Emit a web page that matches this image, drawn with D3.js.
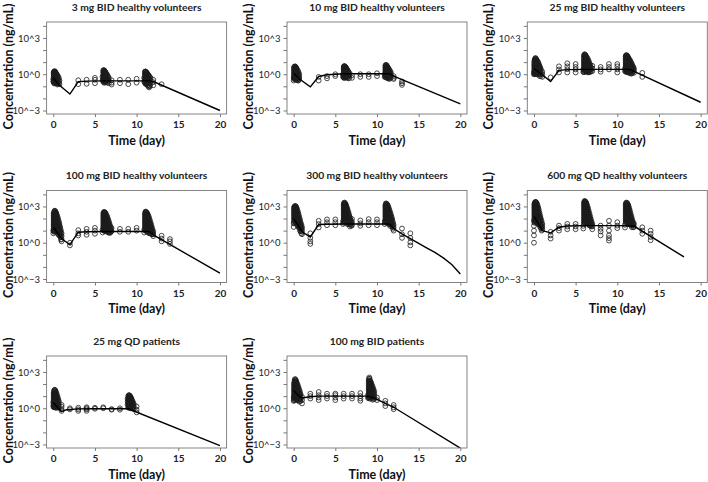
<!DOCTYPE html>
<html>
<head>
<meta charset="utf-8">
<script src="https://cdn.jsdelivr.net/npm/d3@7"></script>
<style>
  body { margin: 0; background: #fff; }
  svg { display: block; }
</style>
</head>
<body>
<svg id="chart" width="708" height="482"></svg>
<script>
// Panel titles, in reading order
const titles = [
  '3 mg BID healthy volunteers',
  '10 mg BID healthy volunteers',
  '25 mg BID healthy volunteers',
  '100 mg BID healthy volunteers',
  '300 mg BID healthy volunteers',
  '600 mg QD healthy volunteers',
  '25 mg QD patients',
  '100 mg BID patients'
];

const xTicks = [0, 5, 10, 15, 20];
const yTicks = [1e-3, 1e-2, 1e-1, 1, 10, 100, 1e3, 1e4];
const yLabels = new Map([[1e-3, '10^\u22123'], [1, '10^0'], [1e3, '10^3']]);

// Model prediction lines: [day, ng/mL]
const pred3 = [[0,0.5],[0.6,0.15],[2,0.023],[3,0.24],[4,0.27],[6,0.28],[8,0.28],[10,0.28],[11.5,0.28],[12,0.25],[20,0.001]];
const pred10 = [[0,1.2],[0.7,0.4],[2,0.09],[3,0.65],[4,0.9],[5,1.0],[6,1.1],[8,1.1],[10,1.1],[11.5,1.1],[12,0.7],[20,0.0035]];
const pred25 = [[0,3],[1,0.9],[2,0.25],[3,2.1],[4,2.4],[6,2.5],[8,2.5],[10,2.5],[11.5,2.5],[12,1.7],[20,0.0048]];
const pred100 = [[0,20],[1,2.1],[2,0.7],[3,7.4],[4,8],[6,8.5],[8,8.5],[10,8.5],[11.5,8.5],[12,4.5],[20,0.003]];
const pred300 = [[0,100],[0.5,30],[1,8],[2,3],[3,32],[4,34],[6,35],[8,35],[10,35],[11.5,35],[12,15],[13,5.5],[14,2.2],[15,0.9],[16,0.36],[17,0.15],[18,0.053],[19,0.015],[20,0.0026]];
const pred600 = [[0,150],[0.5,40],[1,10],[2,6.6],[3,19],[4,24],[6,26],[8,26],[10,26],[12,24],[18,0.067]];
const pred25p = [[0,3],[0.5,1.2],[1,0.55],[1.6,0.75],[3,0.88],[5,0.9],[7,0.9],[9,0.9],[20,0.0008]];
const pred100p = [[0,30],[0.5,12],[1,7],[2,9],[3,10],[5,10],[7,10],[9,10],[10,5.3],[11,2.5],[12,1.2],[20,0.0005]];

// Observations: [day, [ng/mL, ...]]
const obs3 = [
  [0,[0.25,0.4]],[0.08,[1.6,1.2,0.8,0.5,0.3,0.2]],[0.17,[1.8,1.3,0.9,0.6,0.4,0.25]],
  [0.25,[1.5,1.0,0.7,0.45,0.3,0.18]],[0.33,[1.2,0.8,0.55,0.35,0.22]],[0.5,[0.8,0.55,0.35,0.22,0.14]],
  [0.67,[0.5,0.3,0.18]],[0.75,[0.3,0.15]],
  [0.04,[1.4,1.0,0.65,0.4,0.25]],[0.12,[1.7,1.1,0.7,0.45,0.28,0.17]],[0.21,[1.6,1.1,0.75,0.5,0.32,0.2]],
  [0.29,[1.3,0.9,0.6,0.38,0.24]],[0.42,[1.0,0.65,0.42,0.27,0.17]],[0.58,[0.65,0.4,0.25,0.16]],
  [3,[0.32,0.15]],[4,[0.35,0.16]],[5,[0.5,0.35,0.18]],
  [5.9,[0.6,0.3]],[6,[2.0,1.5,1.0,0.7,0.45,0.3]],[6.08,[2.2,1.6,1.1,0.75,0.5,0.3,0.2]],
  [6.17,[1.8,1.3,0.9,0.6,0.4,0.25]],[6.25,[1.5,1.0,0.7,0.45,0.3]],[6.33,[1.2,0.8,0.5,0.3]],
  [6.5,[0.8,0.5,0.3,0.2]],[6.67,[0.5,0.3,0.18]],
  [6.04,[2.1,1.4,0.9,0.6,0.38,0.24]],[6.12,[2.0,1.4,0.95,0.65,0.42,0.27]],[6.21,[1.6,1.1,0.75,0.5,0.32,0.2]],
  [6.29,[1.3,0.9,0.6,0.38,0.24]],[6.42,[1.0,0.65,0.42,0.26]],[6.58,[0.65,0.4,0.25]],
  [7,[0.32,0.2,0.14]],[8,[0.35,0.18]],[9,[0.35,0.15]],[10,[0.42,0.2]],
  [10.9,[0.5,0.25]],[11,[1.6,1.2,0.8,0.55,0.35,0.22]],
  [11.08,[1.7,1.2,0.8,0.5,0.3,0.18]],[11.17,[1.4,1.0,0.65,0.4,0.25,0.15]],[11.25,[1.2,0.8,0.5,0.3,0.18]],
  [11.33,[1.0,0.6,0.4,0.25,0.12]],[11.5,[0.7,0.45,0.28,0.12,0.08]],[11.67,[0.5,0.3,0.15]],
  [11.04,[1.65,1.1,0.7,0.45,0.28,0.17]],[11.12,[1.55,1.1,0.72,0.45,0.28,0.16]],[11.21,[1.3,0.9,0.58,0.35,0.2]],
  [11.29,[1.1,0.7,0.45,0.27,0.15]],[11.42,[0.85,0.55,0.34,0.2,0.1]],[11.58,[0.6,0.37,0.2,0.1]],
  [12,[0.35,0.22,0.12]],[13,[0.15]]
];
const obs10 = [
  [0,[0.5,0.3]],[0.08,[4.0,2.8,2.0,1.4,1.0,0.7,0.5]],[0.17,[4.5,3.2,2.2,1.5,1.0,0.7,0.45]],
  [0.25,[3.8,2.6,1.8,1.2,0.8,0.5,0.35]],[0.33,[3.0,2.0,1.4,0.9,0.6,0.4]],[0.5,[2.0,1.3,0.9,0.6,0.4,0.3]],
  [0.67,[1.0,0.6,0.4]],
  [0.04,[3.6,2.4,1.7,1.2,0.85,0.6,0.4]],[0.12,[4.3,3.0,2.1,1.45,1.0,0.7,0.48]],[0.21,[4.1,2.9,2.0,1.35,0.9,0.6,0.4]],
  [0.29,[3.4,2.3,1.6,1.05,0.7,0.45]],[0.42,[2.5,1.65,1.1,0.75,0.5,0.35]],[0.58,[1.5,1.0,0.65,0.45,0.3]],
  [3,[0.6,0.3]],[4,[0.7,0.45]],[5,[1.0,0.7]],
  [5.92,[0.9,0.6]],[6,[4.0,2.8,1.9,1.3,0.9,0.6]],[6.08,[4.8,3.4,2.4,1.6,1.1,0.75,0.5]],
  [6.17,[4.2,3.0,2.0,1.4,0.9,0.6]],[6.25,[3.5,2.4,1.6,1.1,0.75]],[6.33,[3.0,2.0,1.3,0.9,0.6]],
  [6.5,[2.0,1.4,0.9,0.6]],[6.67,[1.3,0.8,0.5]],
  [6.04,[4.4,3.1,2.1,1.45,1.0,0.68,0.5]],[6.12,[4.5,3.2,2.2,1.5,1.0,0.68]],[6.21,[3.8,2.7,1.8,1.25,0.82,0.55]],
  [6.29,[3.2,2.2,1.45,1.0,0.68]],[6.42,[2.5,1.7,1.1,0.75,0.5]],[6.58,[1.6,1.1,0.7,0.45]],
  [7,[0.8,0.5]],[8,[1.0,0.6]],[9,[1.0,0.6]],[10,[1.2,0.7]],
  [10.92,[1.0,0.6]],[11,[5.0,3.5,2.4,1.6,1.1,0.7]],[11.08,[6.0,4.2,2.8,1.9,1.3,0.9,0.6]],
  [11.17,[5.0,3.5,2.4,1.6,1.0,0.7]],[11.25,[4.0,2.8,1.9,1.3,0.8,0.5]],[11.33,[3.2,2.2,1.5,1.0,0.6]],
  [11.5,[2.2,1.5,1.0,0.65,0.4]],[11.67,[1.4,0.9,0.55]],
  [11.04,[5.5,3.8,2.6,1.75,1.2,0.8,0.55]],[11.12,[5.5,3.8,2.6,1.75,1.15,0.8]],[11.21,[4.5,3.1,2.1,1.4,0.9,0.6]],
  [11.29,[3.6,2.5,1.7,1.15,0.7,0.45]],[11.42,[2.7,1.8,1.2,0.8,0.5]],[11.58,[1.8,1.2,0.75,0.48]],
  [12,[0.7,0.5,0.4]],[13,[0.25,0.18,0.13]]
];
const obs25 = [
  [0,[1.5,1.0]],[0.08,[15,10,7,5,3.5,2.5,1.7,1.2]],[0.17,[22,15,10,7,5,3.5,2.4,1.6,1.1]],
  [0.25,[18,12,8,5.5,3.8,2.6,1.8,1.2]],[0.33,[14,10,7,4.8,3.3,2.2,1.5,1.0]],[0.5,[10,7,4.8,3.3,2.2,1.5,1.0]],
  [0.67,[5,3.4,2.3,1.5,1.0,0.7]],[0.83,[2.6,1.7,1.1,0.7]],[1,[1.6,1.0,0.6]],
  [0.04,[12,8,5.8,4.2,3,2.1,1.4,1.0]],[0.12,[18,12,8.5,6,4.2,3,2,1.4]],[0.21,[20,13.5,9,6.2,4.3,3,2.1,1.4]],
  [0.29,[16,11,7.5,5.1,3.5,2.4,1.6,1.1]],[0.42,[12,8.4,5.8,4,2.7,1.8,1.2]],[0.58,[7,5,3.4,2.3,1.5,1.0]],
  [0.75,[3.6,2.4,1.6,1.0]],
  [2,[0.55]],[3,[4.5,2.5,1.4]],[4,[8,4.5,2.6,1.4]],[5,[7,4,2.5,1.4]],
  [5.92,[2.5,1.5]],[6,[35,24,16,11,7.5,5,3.4,2.3,1.5]],[6.08,[45,30,20,13,9,6,4,2.7,1.8]],
  [6.17,[38,25,17,11,7.5,5,3.3,2.2]],[6.25,[30,20,13,9,6,4,2.6,1.7]],[6.33,[24,16,11,7,4.8,3.2,2.1]],
  [6.5,[16,10,7,4.5,3,2,1.4]],[6.67,[8,5,3.3,2.2,1.5]],[6.83,[4,2.6,1.7]],
  [6.04,[40,27,18,12,8,5.5,3.7,2.5,1.6]],[6.12,[42,28,19,12,8.2,5.5,3.6,2.4]],[6.21,[34,22,15,10,6.7,4.5,3,2]],
  [6.29,[27,18,12,8,5.4,3.6,2.4,1.6]],[6.42,[20,13,8.8,5.8,3.9,2.6,1.7]],[6.58,[12,7.5,5,3.3,2.2,1.5]],
  [6.75,[6,3.8,2.5,1.6]],
  [7,[5,3,1.8]],[8,[4,2.5,1.6]],[9,[7,4,2.5]],[10,[7,4.5,2.5,1.4]],
  [10.92,[3,1.8]],[11,[30,20,14,9,6,4,2.6,1.7]],[11.08,[38,26,17,11,7.5,5,3.3,2.2,1.5]],
  [11.17,[34,22,15,10,6.5,4.3,2.8,1.8]],[11.25,[28,19,12,8,5.5,3.6,2.4,1.6]],[11.33,[22,15,10,6.5,4.3,2.8,1.8]],
  [11.5,[15,10,6.5,4.3,2.8,1.8,1.2]],[11.67,[9,6,4,2.6,1.7,1.1]],[11.83,[5,3.3,2.2,1.4]],
  [11.04,[34,23,15.5,10,6.8,4.5,3,2]],[11.12,[36,24,16,10.5,7,4.7,3,2]],[11.21,[31,20,13.5,9,6,4,2.6,1.7]],
  [11.29,[25,17,11,7.2,4.9,3.2,2.1,1.4]],[11.42,[18,12,8,5.3,3.5,2.3,1.5]],[11.58,[12,8,5.2,3.4,2.2,1.4]],
  [11.75,[7,4.6,3,1.9,1.2]],[11.92,[4,2.6,1.7]],
  [12,[3,2,1.3]],[13,[1.3,0.6]]
];
const obs100 = [
  [0,[10,6]],[0.08,[300,200,130,90,60,40,28,18,12,8]],[0.17,[450,300,200,130,85,55,36,24,16,10]],
  [0.25,[380,250,160,110,70,45,30,20,13]],[0.33,[300,200,130,85,55,36,24,15,10]],[0.5,[150,100,65,42,28,18,12,8]],
  [0.67,[60,40,26,17,11,7,4.5]],[0.83,[20,13,8,5,3.2]],[1,[6,3.5,2,1.3]],
  [0.04,[260,170,110,75,50,34,23,15,10]],[0.12,[380,250,165,110,72,47,32,21,14,9]],[0.21,[420,280,180,120,78,50,33,22,14]],
  [0.29,[340,225,145,95,62,40,27,17,11]],[0.42,[220,145,95,62,40,26,17,11,7]],[0.58,[100,65,42,28,18,12,8,5]],
  [0.75,[35,23,15,9,6,4]],[0.92,[11,7,4.5,2.8,1.8]],
  [2,[1.0,0.6]],[3,[11,6,4]],[4,[14,8,4.5]],[5,[17,10,5.5]],
  [5.92,[12,7]],[6,[250,160,100,65,42,28,18,12]],[6.08,[350,230,150,95,60,40,26,17,11]],
  [6.17,[330,210,140,90,58,38,25,16,10]],[6.25,[280,180,115,75,48,31,20,13]],[6.33,[220,140,90,58,38,25,16,10]],
  [6.5,[130,85,55,36,23,15,10]],[6.67,[60,38,25,16,10,7]],[6.83,[25,16,10,6.5]],
  [6.04,[300,190,125,80,52,34,22,15,10]],[6.12,[340,220,145,92,60,39,25,16,11]],[6.21,[300,195,125,82,53,34,22,14,9]],
  [6.29,[250,160,100,66,43,28,18,12]],[6.42,[170,110,72,46,30,20,13,8.5]],[6.58,[90,58,38,25,16,10,7]],
  [6.75,[38,25,16,10,7]],[6.92,[18,12,8]],
  [7,[16,9]],[8,[14,8]],[9,[14,8]],[10,[17,10]],
  [10.92,[12,7]],[11,[250,160,100,65,42,28,18,12]],[11.08,[380,250,160,100,65,42,28,18,12]],
  [11.17,[330,210,140,90,58,38,25,16,10]],[11.25,[280,180,115,75,48,31,20,13,8]],[11.33,[220,140,90,58,38,25,16,10]],
  [11.5,[120,80,50,32,21,14,9,6]],[11.67,[50,32,21,14,9,6]],[11.83,[20,13,8,5]],
  [11.04,[320,210,135,85,55,36,23,15,10]],[11.12,[350,230,150,95,62,40,26,17,11]],[11.21,[300,195,125,82,53,34,22,14,9]],
  [11.29,[250,160,100,66,43,28,18,12]],[11.42,[170,110,70,45,29,19,12,8]],[11.58,[80,52,34,22,14,9,6]],
  [11.75,[32,21,14,9,6]],[11.92,[12,8,5]],
  [12,[8,5,3.5]],[13,[3.8,2.2,1.3]],[14,[2.0,1.3,0.8]]
];
const obs300 = [
  [0,[40,20]],[0.08,[900,600,400,260,170,110,70]],[0.17,[1100,750,500,330,220,140,90]],
  [0.25,[1000,650,430,280,180,120,80,50]],[0.33,[800,520,340,220,140,90,60]],[0.5,[400,260,170,110,70,45,30]],
  [0.67,[150,100,65,42,28,18]],[0.83,[50,33,22,14,9]],[1,[20,13,8,5]],
  [0.04,[800,530,350,230,150,100,65,42]],[0.12,[1000,680,450,300,200,125,80,52]],[0.21,[1050,700,470,310,200,130,85,55]],
  [0.29,[900,590,390,250,160,105,70,45]],[0.42,[600,390,255,165,105,68,44,28]],[0.58,[250,165,108,70,45,29,19]],
  [0.75,[90,60,39,25,16,10]],[0.92,[32,21,14,9,6]],
  [2,[6,2.5,1.3,0.8]],[3,[65,35,18]],[4,[85,50,28]],[5,[85,50,28]],
  [5.92,[60,35]],[6,[1500,1000,650,420,270,170,110,70,45]],[6.08,[2100,1400,900,580,370,240,150,95,60]],
  [6.17,[1800,1200,780,500,320,200,130,80]],[6.25,[1400,900,580,370,240,150,95,60]],[6.33,[1000,650,420,270,170,110,70]],
  [6.5,[500,320,200,130,85,55]],[6.67,[200,130,85,55,35]],[6.83,[80,50,32]],
  [6.04,[1800,1200,780,500,320,205,130,85,55]],[6.12,[2000,1300,850,550,350,220,140,90,58]],[6.21,[1600,1050,680,440,280,175,112,72]],
  [6.29,[1200,780,500,320,205,130,85,55]],[6.42,[750,490,315,200,130,85,55,35]],[6.58,[320,205,130,85,55,35]],
  [6.75,[125,80,52,34,22]],[6.92,[60,38,25]],
  [7,[90,50,28]],[8,[70,40,25]],[9,[90,50,28]],[10,[85,50,28]],
  [10.92,[60,35]],[11,[1200,800,520,340,220,140,90,60]],[11.08,[1800,1200,780,500,320,200,130,85,55]],
  [11.17,[1600,1050,680,440,280,180,115,75]],[11.25,[1300,850,550,350,220,140,90,58]],[11.33,[1000,650,420,270,170,110,70,45]],
  [11.5,[500,320,200,130,85,55,35]],[11.67,[220,140,90,58,38]],[11.83,[90,58,38,25]],
  [11.04,[1500,1000,650,420,270,170,110,70,45]],[11.12,[1700,1130,730,470,300,190,122,80,52]],[11.21,[1450,950,610,390,250,160,102,66]],
  [11.29,[1150,750,480,310,195,125,80,52]],[11.42,[750,480,310,200,128,82,52,34]],[11.58,[340,220,140,90,58,37,24]],
  [11.75,[140,90,58,38,25]],[11.92,[50,32,21,14]],
  [12,[30,18,10]],[13,[15,5,2.5]],[14,[6,2.5,1.1,0.6]]
];
const obs600 = [
  [0,[70,25,10,4,1]],[0.08,[1800,1200,800,500,320,200,130,80,50]],[0.17,[2400,1600,1000,650,420,270,170,110,70]],
  [0.25,[2200,1400,900,580,370,240,150,95,60]],[0.33,[1800,1150,750,480,300,190,120,75,48]],[0.5,[900,580,370,240,150,95,60,38]],
  [0.67,[300,190,120,75,48,30]],[0.83,[100,65,42,27,17]],[1,[35,20,12]],
  [0.04,[1500,1000,650,420,270,170,110,70,45]],[0.12,[2100,1400,900,580,370,240,150,95,60]],[0.21,[2300,1500,950,620,400,255,160,100,65]],
  [0.29,[2000,1300,830,530,340,215,135,85,54]],[0.42,[1300,830,540,350,220,140,90,57,36]],[0.58,[550,350,225,145,92,58,37]],
  [0.75,[170,110,70,45,29,19]],[0.92,[60,38,25,16,10]],
  [2,[8,4,2.2]],[3,[26,16,10]],[4,[36,22,13]],[5,[36,22,13]],
  [5.92,[25,15]],[6,[2000,1300,850,550,350,220,140,90,58,37]],[6.08,[2800,1800,1150,750,480,300,190,120,75,48]],
  [6.17,[2500,1600,1000,650,420,270,170,110,70,45]],[6.25,[2000,1300,850,550,350,220,140,90,58]],[6.33,[1500,950,620,400,250,160,100,65,42]],
  [6.5,[700,450,290,180,115,75,48]],[6.67,[250,160,100,65,42,27]],[6.83,[90,58,37,24]],
  [6.04,[2400,1550,1000,650,420,265,170,110,70,45]],[6.12,[2700,1750,1100,720,460,290,185,118,75]],[6.21,[2300,1480,950,610,390,250,160,102,65]],
  [6.29,[1800,1150,740,480,300,195,125,80,50]],[6.42,[1050,680,440,280,180,115,74,47]],[6.58,[420,270,175,112,72,46,30]],
  [6.75,[150,96,62,40,26]],[6.92,[55,35,23]],
  [7,[36,22,13]],[8,[26,14,8.5,4]],[9,[65,26,10,4,2.4,1.5]],[10,[50,26,16]],
  [10.92,[30,18]],[11,[1500,950,620,400,250,160,100,65,42]],[11.08,[2100,1350,870,560,360,230,145,92,58]],
  [11.17,[1900,1200,780,500,320,200,130,82,52]],[11.25,[1500,950,620,400,250,160,100,65]],[11.33,[1100,700,450,290,185,120,75,48]],
  [11.5,[500,320,200,130,82,52,33]],[11.67,[180,115,75,48,30]],[11.83,[65,42,27]],
  [11.04,[1800,1150,740,480,300,195,125,80,50]],[11.12,[2000,1300,830,530,340,215,138,88,56]],[11.21,[1700,1100,700,450,290,185,118,75,48]],
  [11.29,[1300,830,540,350,220,140,90,57]],[11.42,[800,510,330,210,135,86,55,35]],[11.58,[300,195,125,80,51,33]],
  [11.75,[110,70,45,29,19]],[11.92,[45,29,19]],
  [12,[36,20]],[13,[19,10,5.5]],[14,[10,5.5,3,1.6]]
];
const obs25p = [
  [0,[3,1.5]],[0.08,[25,15,9,6,4,2.7,1.8,1.2]],[0.17,[34,20,12,8,5,3.3,2.2,1.4]],
  [0.25,[28,17,10,6.5,4.3,2.8,1.8,1.2]],[0.33,[20,12,7.5,5,3.3,2.2,1.4]],[0.5,[10,6.5,4.2,2.8,1.8,1.2]],
  [0.67,[4,2.6,1.7,1.1]],
  [0.04,[18,11,7,4.5,3,2,1.3]],[0.12,[30,18,11,7,4.5,3,2,1.3]],[0.21,[31,18.5,11,7.2,4.7,3,2,1.3]],
  [0.29,[24,14,8.7,5.7,3.8,2.5,1.6,1.1]],[0.42,[15,9,5.6,3.8,2.5,1.6,1.1]],[0.58,[6.5,4.2,2.7,1.8,1.2]],
  [1,[1.9,1.3,0.8,0.6]],[2,[1.0,0.8]],[3,[1.1,0.8,0.6]],[4,[1.2,1.0,0.8,0.6]],
  [5,[1.1,0.9]],[6,[1.2,1.0]],[7,[0.85,0.75]],[8,[1.0,0.75]],
  [8.92,[6,3.5,2]],[9,[10,6.5,4.2,2.7,1.7,1.1]],[9.08,[12,8,5,3.2,2,1.3]],[9.17,[11,7,4.5,2.9,1.8,1.2]],
  [9.25,[9,6,3.8,2.4,1.5,1.0]],[9.33,[7,4.5,2.9,1.8,1.2]],[9.5,[4,2.6,1.7,1.1]],[9.67,[2.2,1.4,0.9]],
  [9.04,[11,7.2,4.6,3,1.9,1.2]],[9.12,[11.5,7.5,4.8,3.1,1.9,1.25]],[9.21,[10,6.5,4.1,2.6,1.65,1.1]],
  [9.29,[8,5.2,3.3,2.1,1.35]],[9.42,[5.5,3.5,2.3,1.5,1.0]],[9.58,[3,2,1.3,0.9]],
  [10,[1.4,0.75,0.45]]
];
const obs100p = [
  [0,[8,4]],[0.08,[150,90,55,35,22,14,9,6]],[0.17,[260,160,100,60,38,24,15,10,6]],
  [0.25,[200,125,80,50,32,20,13,8]],[0.33,[150,95,60,38,24,15,10,6]],[0.5,[80,50,32,20,13,8,5]],
  [0.67,[35,22,14,9,6,3.5]],[0.83,[15,10,6,4]],[1,[8.7,4.7,2.5]],
  [0.04,[110,68,42,27,17,11,7,4.5]],[0.12,[210,125,78,48,30,19,12,8,5]],[0.21,[230,140,90,55,35,22,14,9]],
  [0.29,[175,110,70,44,28,17,11,7]],[0.42,[110,70,44,28,18,11,7,4.5]],[0.58,[55,35,22,14,9,5.5]],
  [0.75,[24,15,10,6,4]],
  [2,[16,10,6.3]],[3,[22,12,7.7,4.7]],[4,[16,10,6.3]],[5,[16,12,7.7,4.7]],[6,[16,10,6.3]],
  [7,[16,10,6.3]],[8,[18,10,6.3,4.1]],
  [8.92,[12,7]],[9,[200,120,75,45,28,17,11,7]],[9.08,[350,200,110,65,40,25,15,9]],
  [9.17,[180,110,68,42,26,16,10,6]],[9.25,[140,85,52,32,20,12,7.5]],[9.33,[100,62,38,24,15,9]],
  [9.5,[55,34,21,13,8,5]],[9.67,[25,16,10,6]],
  [9.04,[280,160,95,57,35,22,13,8]],[9.12,[260,155,90,55,34,21,13,8]],[9.21,[160,98,60,37,23,14,9]],
  [9.29,[120,73,45,28,17,10]],[9.42,[75,46,29,18,11,7]],[9.58,[38,24,15,9,6]],
  [10,[7.7,4.7]],[11,[4.1,2.5,1.5]],[12,[1.85,1.2,0.83]]
];

const preds = [pred3, pred10, pred25, pred100, pred300, pred600, pred25p, pred100p];
const observations = [obs3, obs10, obs25, obs100, obs300, obs600, obs25p, obs100p];

// Layout
const colLeft = [46.6, 287, 527.3];
const rowTop = [22, 190.5, 356];
const plotW = 180, plotH = 92;
const fontMain = 'Lato, "Open Sans", "DejaVu Sans", sans-serif';

const x = d3.scaleLinear().domain([-0.8, 20.8]).range([0, plotW]);
const y = d3.scaleLog().domain([Math.pow(10, -3.29), Math.pow(10, 4.32)]).range([plotH, 0]);

const svg = d3.select('#chart');
svg.append('defs').append('clipPath').attr('id', 'plot-clip')
  .append('rect').attr('width', plotW).attr('height', plotH);

const line = d3.line().x(d => x(d[0])).y(d => y(d[1]));

titles.forEach((title, i) => {
  const col = i % 3, row = Math.floor(i / 3);
  const g = svg.append('g').attr('transform', `translate(${colLeft[col]},${rowTop[row]})`);

  // Observations
  const pts = observations[i].flatMap(([t, cs]) => cs.map(c => [t, c]));
  g.append('g').attr('clip-path', 'url(#plot-clip)')
    .selectAll('circle').data(pts).join('circle')
    .attr('cx', d => x(d[0])).attr('cy', d => y(d[1]))
    .attr('r', 2.4)
    .attr('fill', 'none').attr('stroke', '#1c1c1c').attr('stroke-width', 0.8);

  // Prediction
  g.append('path').datum(preds[i])
    .attr('clip-path', 'url(#plot-clip)')
    .attr('d', line)
    .attr('fill', 'none').attr('stroke', '#000').attr('stroke-width', 1.4);

  // Frame
  g.append('rect').attr('width', plotW).attr('height', plotH)
    .attr('fill', 'none').attr('stroke', '#777').attr('stroke-width', 0.9);

  // Axes
  g.append('g')
    .call(d3.axisLeft(y).tickValues(yTicks).tickSize(3.5).tickPadding(3)
      .tickFormat(d => yLabels.get(d) || ''))
    .call(ax => ax.select('.domain').remove())
    .call(ax => ax.selectAll('line').attr('stroke', '#777'))
    .call(ax => ax.selectAll('text').attr('fill', '#222').attr('font-size', 9.5)
      .attr('font-family', fontMain));

  g.append('g').attr('transform', `translate(0,${plotH})`)
    .call(d3.axisBottom(x).tickValues(xTicks).tickSize(3).tickPadding(4))
    .call(ax => ax.select('.domain').remove())
    .call(ax => ax.selectAll('line').attr('stroke', '#777'))
    .call(ax => ax.selectAll('text').attr('fill', '#222').attr('font-size', 10)
      .attr('font-family', fontMain).attr('font-weight', 'bold'));

  // Title
  g.append('text')
    .attr('x', plotW / 2).attr('y', -11.5)
    .attr('text-anchor', 'middle').attr('fill', '#222')
    .attr('font-family', fontMain).attr('font-weight', 'bold').attr('font-size', 10.3)
    .text(title);

  // Axis labels
  g.append('text')
    .attr('x', plotW / 2).attr('y', plotH + 30.5)
    .attr('text-anchor', 'middle').attr('fill', '#111')
    .attr('font-family', fontMain).attr('font-weight', 'bold').attr('font-size', 12.5)
    .text('Time (day)');

  g.append('text')
    .attr('transform', `translate(-38.5,${plotH / 2 - 1.5}) rotate(-90)`)
    .attr('dy', '0.36em')
    .attr('text-anchor', 'middle').attr('fill', '#111')
    .attr('font-family', fontMain).attr('font-weight', 'bold').attr('font-size', 12.5)
    .attr('textLength', 126).attr('lengthAdjust', 'spacingAndGlyphs')
    .text('Concentration (ng/mL)');
});
</script>
</body>
</html>
